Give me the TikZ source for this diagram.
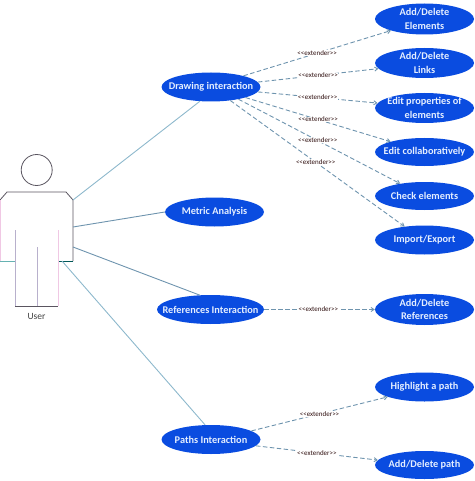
\documentclass[tikz,border=0pt]{standalone}
\usepackage{fontspec}
\setmainfont{Carlito}
\usetikzlibrary{shapes.geometric,arrows.meta}
\definecolor{ucblue}{HTML}{0A4CE0}
\definecolor{linkblue}{HTML}{8DB8CC}
\definecolor{dashblue}{HTML}{6E94AE}
\definecolor{bodyline}{HTML}{5A5560}
\definecolor{ucpink}{HTML}{F0C8E4}
\definecolor{uclav}{HTML}{B8B0CC}
\definecolor{lblred}{HTML}{301010}
\definecolor{uctext}{HTML}{E4EEFF}
\newcommand{\extword}{<{}<extender>{}>}
\tikzset{
 usecase/.style={ellipse,fill=ucblue,draw=none,inner xsep=-30pt,inner ysep=-12pt,minimum width=99pt,minimum height=#1,text=uctext,align=center,font=\fontsize{10.3}{13.5}\selectfont\bfseries},
 usecase/.default={29pt},
 assoc/.style={draw=linkblue,line width=0.9pt},
 ext/.style={draw=dashblue,line width=0.9pt,dash pattern=on 4.5pt off 2.5pt,-{Straight Barb[length=3pt,width=4pt]}},
 extlbl/.style={fill=white,inner sep=0.4pt,text=lblred,font=\fontsize{7}{8}\selectfont},
 outline/.style={draw=bodyline,line width=0.8pt},
 userlbl/.style={text=black!75,font=\fontsize{9.5}{11}\selectfont}
}
\begin{document}
\begin{tikzpicture}[x=1pt,y=-1pt]
\useasboundingbox (0,0) rectangle (474,481);
% actor
\node[circle,outline,fill=white,minimum size=31pt,inner sep=0pt] (head) at (36.7,170) {};
\coordinate (sl) at (0,200);
\coordinate (slt) at (7,192);
\coordinate (srt) at (66,192);
\coordinate (sr) at (73,200);
\coordinate (hipl) at (0,261);
\coordinate (hipr) at (73,261);
\coordinate (crotch) at (37,247);
\coordinate (legl) at (15,306);
\coordinate (legm) at (37,306);
\coordinate (legr) at (58,306);
\coordinate (armr) at (73,227);
\coordinate (armr2) at (73,247);
\coordinate (hipr2) at (62,261);
\draw[outline] (sl) -- (slt) -- (srt) -- (sr) -- (hipr);
\draw[outline,draw=ucpink] (sl) -- (hipl);
\draw[outline,draw=teal!60] (hipl) -- (15,261);
\draw[outline,draw=teal!70!black] (hipr) -- (58,261);
\draw[outline,draw=uclav] (15,230) -- (legl);
\draw[outline,draw=ucpink] (58,230) -- (legr);
\draw[outline] (legl) -- (legr);
\draw[outline,draw=uclav] (crotch) -- (legm);
\node[userlbl] (user) at (36.5,316) {User};
% use cases
\node[usecase] (draw) at (211,87) {Drawing interaction};
\node[usecase] (metric) at (214.5,212) {Metric Analysis};
\node[usecase,minimum width=107pt] (refs) at (210.5,309.5) {References Interaction};
\node[usecase] (paths) at (211,439.5) {Paths Interaction};
\node[usecase=31pt] (elem) at (424.5,19) {Add/Delete\\Elements};
\node[usecase=30pt] (links) at (424.5,63) {Add/Delete\\Links};
\node[usecase=30pt] (props) at (424.5,108) {Edit properties of\\elements};
\node[usecase=28pt] (collab) at (424.5,152) {Edit collaboratively};
\node[usecase=28pt] (check) at (424.5,196) {Check elements};
\node[usecase=29pt] (import) at (424.5,240) {Import/Export};
\node[usecase=31pt] (addref) at (424.5,309.5) {Add/Delete\\References};
\node[usecase=29pt] (high) at (424.5,387) {Highlight a path};
\node[usecase=28pt] (addpath) at (424.5,465) {Add/Delete path};
% associations
\draw[assoc] (sr) -- (draw.232);
\draw[assoc,draw=dashblue] (armr) -- (metric.west);
\draw[assoc,draw=dashblue] (armr2) -- (refs.127);
\draw[assoc] (hipr2) -- (paths.112);
% extends
\draw[ext] (draw.19) -- node[extlbl,pos=0.5] (l1) {\extword} (elem.199);
\draw[ext] (draw.6) -- node[extlbl,pos=0.5] (l2) {\extword} (links.187);
\draw[ext] (draw.-6) -- node[extlbl,pos=0.5] (l3) {\extword} (props.174);
\draw[ext] (draw.-17) -- node[extlbl,pos=0.5] (l4) {\extword} (collab.163);
\draw[ext] (draw.-24) -- node[extlbl,pos=0.49] (l5) {\extword} (check.153);
\draw[ext] (draw.-35) -- node[extlbl,pos=0.49] (l6) {\extword} (import.146);
\draw[ext] (refs.east) -- node[extlbl,pos=0.49] (l7) {\extword} (addref.west);
\draw[ext] (paths.12) -- node[extlbl,pos=0.5] (l8) {\extword} (high.195);
\draw[ext] (paths.-8) -- node[extlbl,pos=0.5] (l9) {\extword} (addpath.174);
\end{tikzpicture}
\end{document}
